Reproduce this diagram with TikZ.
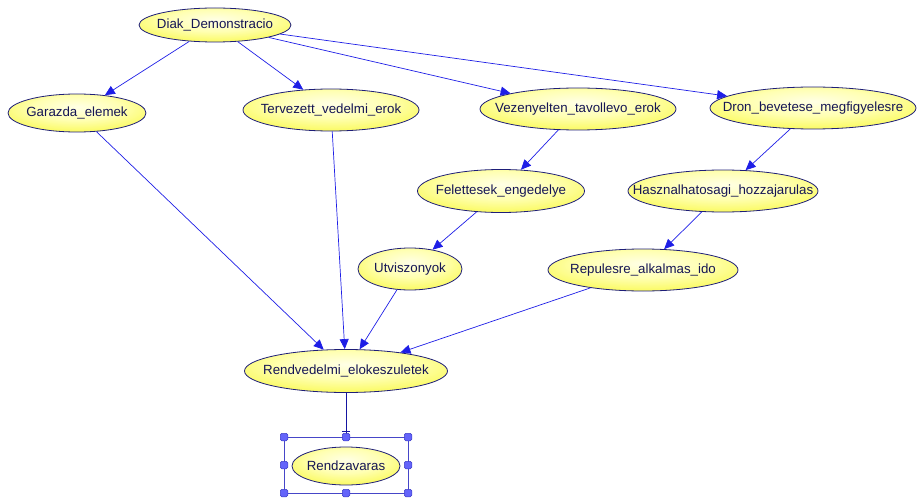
\documentclass[tikz,border=0pt]{standalone}
\usepackage{fontspec}
\setmainfont{Liberation Sans}
\usetikzlibrary{shapes.geometric,arrows.meta}
\definecolor{edgeblue}{RGB}{30,30,230}
\definecolor{ndborder}{RGB}{30,30,120}
\definecolor{handle}{RGB}{100,100,250}
\definecolor{handled}{RGB}{60,60,200}
\definecolor{selbox}{RGB}{70,70,200}
\pgfdeclareradialshading{ndshade}{\pgfpoint{0bp}{8bp}}{rgb(0bp)=(1,1,0.9); rgb(16bp)=(1,1,0.7); rgb(32bp)=(0.98,0.98,0.35); rgb(48bp)=(0.94,0.94,0.08); rgb(100bp)=(0.94,0.94,0.08)}
\tikzset{
  nd/.style={ellipse, draw=ndborder, line width=0.8pt, shade, shading=ndshade, inner sep=0pt},
  lbl/.style={font=\fontsize{13.3}{15}\selectfont, text=ndborder!70!black},
  edge/.style={draw=edgeblue, line width=0.7pt, -{Triangle[length=10pt,width=9pt,fill=edgeblue]}},
  hnd/.style={draw=handled, fill=handle, line width=0.5pt, rounded corners=1.5pt, minimum size=7.5pt, inner sep=0pt, rectangle}
}
\begin{document}
\begin{tikzpicture}[x=1pt,y=-1pt]
\useasboundingbox (0,0) rectangle (918,500);
\node[nd, minimum width=152, minimum height=34, label={[lbl]center:Diak\_Demonstracio}] (dd) at (215,25) {};
\node[nd, minimum width=138, minimum height=38, label={[lbl]center:Garazda\_elemek}] (ge) at (77,113) {};
\node[nd, minimum width=176, minimum height=42, label={[lbl]center:Tervezett\_vedelmi\_erok}] (tv) at (331,110) {};
\node[nd, minimum width=196, minimum height=42, label={[lbl]center:Vezenyelten\_tavollevo\_erok}] (ve) at (578,109) {};
\node[nd, minimum width=206, minimum height=42, label={[lbl]center:Dron\_bevetese\_megfigyelesre}] (db) at (813,108) {};
\node[nd, minimum width=167, minimum height=43, label={[lbl]center:Felettesek\_engedelye}] (fe) at (501,191) {};
\node[nd, minimum width=190, minimum height=42, label={[lbl]center:Hasznalhatosagi\_hozzajarulas}] (hh) at (723,191) {};
\node[nd, minimum width=104, minimum height=42, label={[lbl]center:Utviszonyok}] (ut) at (410,269) {};
\node[nd, minimum width=190, minimum height=42, label={[lbl]center:Repulesre\_alkalmas\_ido}] (ra) at (643,270) {};
\node[nd, minimum width=203, minimum height=43, label={[lbl]center:Rendvedelmi\_elokeszuletek}] (re) at (346,371) {};
\node[nd, minimum width=108, minimum height=38, label={[lbl]center:Rendzavaras}] (rz) at (346,466) {};

\draw[edge] (dd) -- (ge);
\draw[edge] (dd) -- (tv);
\draw[edge] (dd) -- (ve);
\draw[edge] (dd) -- (db);
\draw[edge] (ve) -- (fe);
\draw[edge] (db) -- (hh);
\draw[edge] (fe) -- (ut);
\draw[edge] (hh) -- (ra);
\draw[edge] (ge) -- (re);
\draw[edge] (tv) -- (re);
\draw[edge] (ut) -- (re);
\draw[edge] (ra) -- (re);

% selection box
\coordinate (bnw) at (284,437);
\coordinate (bse) at (408,493);
\coordinate (tbar) at (346,432);
\coordinate (btop) at (346,437);
\draw[selbox, line width=0.7pt] (bnw) rectangle (bse);
\draw[draw=edgeblue!70!black, line width=0.7pt, -{Bar[width=8pt]}] (re.south) -- (tbar);
\draw[draw=edgeblue!70!black, line width=0.7pt] (tbar) -- (btop);
\foreach \hx in {284,346,408}{
  \node[hnd] (h\hx t) at (\hx,437) {};
  \node[hnd] (h\hx b) at (\hx,493) {};
}
\node[hnd] (hlm) at (284,465) {};
\node[hnd] (hrm) at (408,465) {};
\end{tikzpicture}
\end{document}
